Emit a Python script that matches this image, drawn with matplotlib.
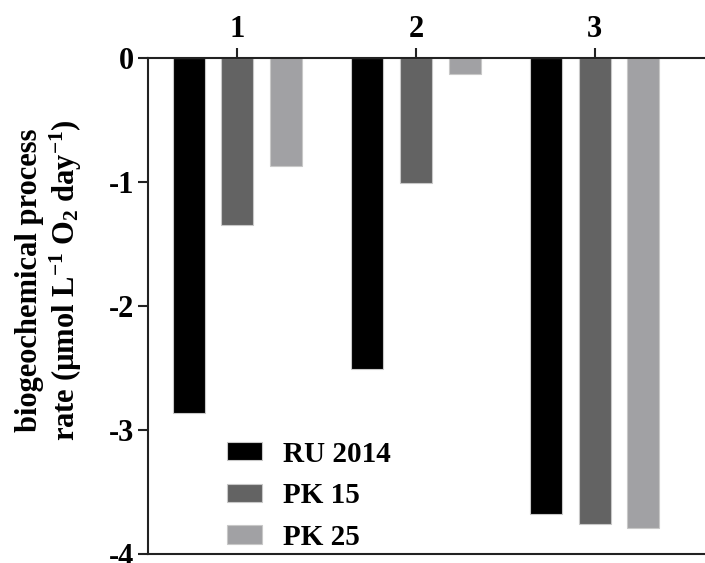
import numpy as np
from matplotlib import pyplot as plt

plt.rcParams['font.family'] = 'Liberation Serif'
plt.rcParams['font.weight'] = 'bold'
plt.rcParams['mathtext.fontset'] = 'custom'
plt.rcParams['mathtext.rm'] = 'Liberation Serif:bold'
plt.rcParams['mathtext.it'] = 'Liberation Serif:bold'
plt.rcParams['mathtext.bf'] = 'Liberation Serif:bold'

groups = ['1', '2', '3']
series = ['RU 2014', 'PK 15', 'PK 25']
ru2014 = [-2.86, -2.51, -3.68]
pk15 = [-1.35, -1.01, -3.76]
pk25 = [-0.87, -0.13, -3.79]
bar_colors = ['#000000', '#636363', '#a1a1a4']

fig = plt.figure(figsize=(7.05, 5.63), dpi=100)
ax = fig.add_axes([0.21, 0.016, 0.79, 0.8815])

x = np.arange(1, len(groups) + 1)
step = 0.272
width = 0.179
for i, (vals, name) in enumerate(zip([ru2014, pk15, pk25], series)):
    ax.bar(x + (i - 1) * step, vals, width, color=bar_colors[i],
           edgecolor='#c8c8c8', linewidth=0.8, label=name)

ax.set_xlim(0.5, 3.617)
ax.set_ylim(-4, 0)
ax.set_yticks([0, -1, -2, -3, -4])
ax.set_yticklabels(['0', '-1', '-2', '-3', '-4'])
ax.set_xticks(x)
ax.set_xticklabels(groups)
ax.xaxis.tick_top()

for s in ['top', 'left', 'bottom']:
    ax.spines[s].set_linewidth(1.5)
    ax.spines[s].set_color('#222222')
ax.spines['right'].set_visible(False)

ax.tick_params(axis='both', direction='out', length=7, width=1.5,
               labelsize=22, pad=3, color='#222222')

ax.set_ylabel('biogeochemical process\nrate (µmol L$^{-1}$ O$_2$ day$^{-1}$)',
              fontsize=22, fontweight='bold', linespacing=1.15)
ax.yaxis.set_label_coords(-0.115, 0.552)

leg = ax.legend(loc='upper left', bbox_to_anchor=(0.115, 0.258), frameon=False,
                borderpad=0, handlelength=1.2, handleheight=0.59,
                handletextpad=0.72, labelspacing=0.5, fontsize=21)

fig.savefig('out.png', dpi=100)
